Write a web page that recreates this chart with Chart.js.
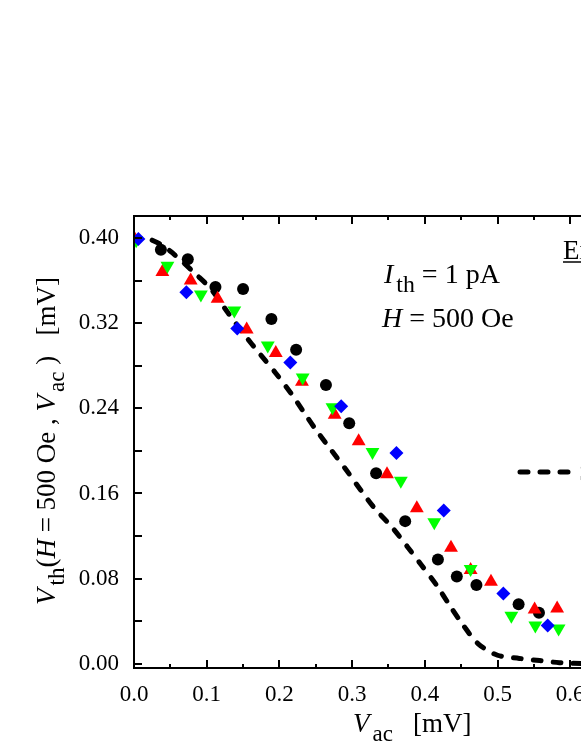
<!DOCTYPE html>
<html>
<head>
<meta charset="utf-8">
<script src="https://cdn.jsdelivr.net/npm/chart.js@4.4.1/dist/chart.umd.min.js"></script>
<style>
  html, body { margin: 0; padding: 0; background: #fff; overflow: hidden; }
  #wrap { width: 581px; height: 752px; overflow: hidden; }
</style>
</head>
<body>
<div id="wrap"><canvas id="chart" width="820" height="752"></canvas></div>
<script>
// tick values
const xTicks = [0, 0.1, 0.2, 0.3, 0.4, 0.5, 0.6, 0.7, 0.8];
const xMinor = [0.05, 0.15, 0.25, 0.35, 0.45, 0.55, 0.65, 0.75];
const yTicks = [0, 0.08, 0.16, 0.24, 0.32, 0.40];
const yMinor = [0.04, 0.12, 0.20, 0.28, 0.36];

const blackX = [0.037, 0.074, 0.112, 0.150, 0.189, 0.223, 0.264, 0.296, 0.333, 0.373, 0.418, 0.444, 0.471, 0.529, 0.557];
const blackY = [0.389, 0.380, 0.354, 0.352, 0.324, 0.295, 0.262, 0.226, 0.179, 0.134, 0.098, 0.082, 0.074, 0.056, 0.048];

const redX = [0.0, 0.039, 0.078, 0.115, 0.155, 0.195, 0.231, 0.276, 0.309, 0.348, 0.389, 0.436, 0.463, 0.491, 0.551, 0.582];
const redY = [0.400, 0.368, 0.360, 0.343, 0.314, 0.292, 0.265, 0.234, 0.209, 0.178, 0.146, 0.109, 0.088, 0.077, 0.051, 0.052];

const greenX = [0.003, 0.046, 0.092, 0.138, 0.184, 0.232, 0.273, 0.328, 0.367, 0.413, 0.463, 0.519, 0.552, 0.584];
const greenY = [0.398, 0.374, 0.347, 0.332, 0.299, 0.269, 0.241, 0.199, 0.172, 0.133, 0.089, 0.045, 0.036, 0.033];

const blueX = [0.006, 0.072, 0.142, 0.215, 0.285, 0.361, 0.426, 0.508, 0.569];
const blueY = [0.399, 0.349, 0.315, 0.283, 0.242, 0.198, 0.144, 0.066, 0.036];

// dashed curve
const simX = [0.025, 0.037, 0.053, 0.085, 0.106, 0.129, 0.152, 0.172, 0.195, 0.216, 0.232, 0.250, 0.271, 0.292, 0.312, 0.331, 0.354, 0.376, 0.395, 0.416, 0.434, 0.452, 0.473, 0.500, 0.530, 0.558, 0.585, 0.620];
const simY = [0.398, 0.394, 0.386, 0.366, 0.352, 0.330, 0.309, 0.292, 0.273, 0.254, 0.238, 0.220, 0.201, 0.182, 0.163, 0.146, 0.129, 0.110, 0.093, 0.074, 0.055, 0.037, 0.019, 0.008, 0.005, 0.003, 0.001, 0.000];

function pts(xs, ys) {
    return xs.map((x, i) => ({x: x, y: ys[i]}));
}

const SERIF = '"Liberation Serif", "Times New Roman", serif';
const SUB = 0.85;

function richWidth(ctx, parts, size) {
    let w = 0;
    parts.forEach(p => {
        const fs = p.sub ? size * SUB : size;
        ctx.font = (p.it ? 'italic ' : '') + fs + 'px ' + SERIF;
        w += ctx.measureText(p.t).width + (p.sub ? 3 : 0);
    });
    return w;
}

function drawRich(ctx, parts, x, y, size) {
    let cx = x;
    parts.forEach(p => {
        const fs = p.sub ? size * SUB : size;
        ctx.font = (p.it ? 'italic ' : '') + fs + 'px ' + SERIF;
        if (p.sub) cx += 3;
        ctx.fillText(p.t, cx, y + (p.sub ? size * 0.32 : 0));
        cx += ctx.measureText(p.t).width;
    });
    return cx - x;
}

const framePlugin = {
    id: 'frame',
    afterDraw(chart) {
        const ctx = chart.ctx;
        const a = chart.chartArea;
        const xs = chart.scales.x, ys = chart.scales.y;
        ctx.save();
        ctx.strokeStyle = '#000';
        ctx.fillStyle = '#000';
        ctx.lineWidth = 2;
        ctx.strokeRect(a.left, a.top, a.right - a.left, a.bottom - a.top);

        // inward ticks
        ctx.beginPath();
        xTicks.forEach(v => {
            const px = Math.round(xs.getPixelForValue(v));
            ctx.moveTo(px, a.bottom); ctx.lineTo(px, a.bottom - 8);
            ctx.moveTo(px, a.top); ctx.lineTo(px, a.top + 8);
        });
        xMinor.forEach(v => {
            const px = Math.round(xs.getPixelForValue(v));
            ctx.moveTo(px, a.bottom); ctx.lineTo(px, a.bottom - 4);
            ctx.moveTo(px, a.top); ctx.lineTo(px, a.top + 4);
        });
        yTicks.concat(yMinor).forEach(v => {
            const py = Math.round(ys.getPixelForValue(v));
            ctx.moveTo(a.left, py); ctx.lineTo(a.left + 8, py);
            ctx.moveTo(a.right, py); ctx.lineTo(a.right - 8, py);
        });
        ctx.stroke();

        ctx.textBaseline = 'alphabetic';
        ctx.textAlign = 'left';

        // x title
        drawRich(ctx, [
            {t: 'V', it: true}, {t: 'ac', sub: true}, {t: '   [mV]'}
        ], 353, 732, 27);

        // y title (rotated)
        const yParts = [
            {t: 'V', it: true}, {t: 'th', sub: true}, {t: '('}, {t: 'H', it: true},
            {t: ' = 500 Oe , '}, {t: 'V', it: true}, {t: 'ac', sub: true}, {t: ' )   [mV]'}
        ];
        const yw = richWidth(ctx, yParts, 27);
        ctx.save();
        ctx.translate(55, 441 + yw / 2);
        ctx.rotate(-Math.PI / 2);
        drawRich(ctx, yParts, 0, 0, 27);
        ctx.restore();

        // annotations
        drawRich(ctx, [{t: 'I', it: true}, {t: 'th', sub: true}, {t: ' = 1 pA'}], 384, 283, 28);
        drawRich(ctx, [{t: 'H', it: true}, {t: ' = 500 Oe'}], 382, 327, 28);

        // legend
        const lw = drawRich(ctx, [{t: 'Experiment'}], 563, 259, 27);
        ctx.beginPath();
        ctx.lineWidth = 1.5;
        ctx.moveTo(563, 262); ctx.lineTo(563 + lw, 262);
        ctx.stroke();

        ctx.beginPath();
        ctx.lineWidth = 5;
        ctx.lineCap = 'round';
        ctx.setLineDash([8, 12]);
        ctx.moveTo(520, 472); ctx.lineTo(570, 472);
        ctx.stroke();
        ctx.setLineDash([]);
        drawRich(ctx, [{t: 'Simulation'}], 579, 481, 27);
        ctx.restore();
    }
};

const markerBase = {
    showLine: false,
    borderWidth: 0,
    pointBorderWidth: 0
};

new Chart(document.getElementById('chart'), {
    type: 'scatter',
    data: {
        datasets: [
            Object.assign({}, markerBase, {
                label: 'blue', data: pts(blueX, blueY),
                pointStyle: 'rectRot', pointRadius: 7,
                backgroundColor: '#0000ff', borderColor: '#0000ff'
            }),
            Object.assign({}, markerBase, {
                label: 'green', data: pts(greenX, greenY),
                pointStyle: 'triangle', pointRotation: 180, pointRadius: 8,
                backgroundColor: '#00ff00', borderColor: '#00ff00'
            }),
            Object.assign({}, markerBase, {
                label: 'red', data: pts(redX, redY),
                pointStyle: 'triangle', pointRadius: 8,
                backgroundColor: '#ff0000', borderColor: '#ff0000'
            }),
            Object.assign({}, markerBase, {
                label: 'black', data: pts(blackX, blackY),
                pointStyle: 'circle', pointRadius: 6,
                backgroundColor: '#000000', borderColor: '#000000'
            }),
            {
                label: 'sim', data: pts(simX, simY),
                showLine: true, pointRadius: 0,
                borderColor: '#000', borderWidth: 5,
                borderDash: [8, 12], borderCapStyle: 'round',
                tension: 0.3, fill: false
            }
        ]
    },
    options: {
        responsive: false,
        animation: false,
        devicePixelRatio: 1,
        layout: { padding: { top: 216, right: 68, left: 0, bottom: 0 } },
        plugins: {
            legend: { display: false },
            tooltip: { enabled: false }
        },
        scales: {
            x: {
                type: 'linear',
                min: 0, max: 0.85,
                grid: { display: false },
                border: { display: false },
                afterBuildTicks: s => { s.ticks = xTicks.map(v => ({value: v})); },
                afterFit: s => { s.height = 84; },
                ticks: {
                    color: '#000',
                    padding: 5,
                    maxRotation: 0,
                    font: { family: SERIF, size: 23 },
                    callback: v => v.toFixed(1)
                }
            },
            y: {
                type: 'linear',
                min: -0.004, max: 0.4207,
                grid: { display: false },
                border: { display: false },
                afterBuildTicks: s => { s.ticks = yTicks.map(v => ({value: v})); },
                afterFit: s => { s.width = 134; },
                ticks: {
                    color: '#000',
                    padding: 7,
                    font: { family: SERIF, size: 23 },
                    callback: v => v.toFixed(2)
                }
            }
        }
    },
    plugins: [framePlugin]
});
</script>
</body>
</html>
